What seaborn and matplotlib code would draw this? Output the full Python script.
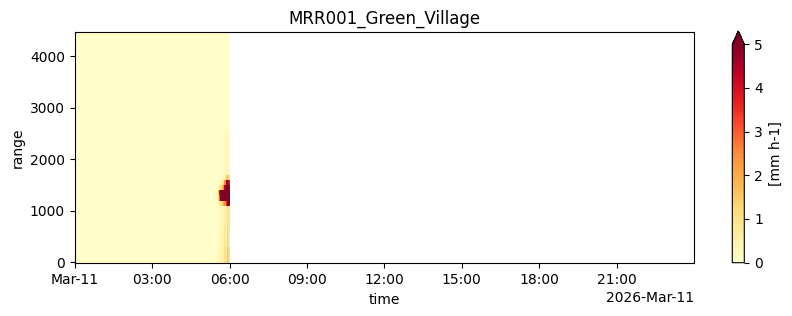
import numpy as np
import pandas as pd
import matplotlib
matplotlib.use("Agg")
import matplotlib.pyplot as plt
import matplotlib.dates as mdates
import seaborn as sns

# ---- data -----------------------------------------------------------------
day = "2026-03-11"
# time bin edges, minutes after midnight
time_edges_min = [0, 327, 330, 333, 336, 339, 342, 345, 348, 351, 354, 357, 360]
# range bin edges in metres
range_edges = [-17.5, 300, 700, 1100, 1200, 1300, 1400, 1500, 1600, 1700, 2500, 4462.5]
# rain rate [mm h-1], rows = range bins (bottom->top), cols = time bins
rain_rate = [
    [0.0, 0.10, 0.20, 0.30, 0.40, 0.30, 0.70, 0.40, 1.00, 0.60, 1.80, 1.00],
    [0.0, 0.05, 0.10, 0.20, 0.30, 0.20, 0.50, 0.30, 0.80, 0.40, 1.40, 0.70],
    [0.0, 0.05, 0.10, 0.10, 0.20, 0.30, 0.30, 0.40, 0.50, 0.60, 0.90, 0.90],
    [0.0, 0.10, 0.20, 0.40, 0.60, 1.00, 1.50, 2.00, 2.50, 3.50, 6.00, 5.50],
    [0.0, 0.20, 0.50, 1.20, 3.00, 6.00, 7.00, 7.00, 6.00, 6.00, 7.00, 6.00],
    [0.0, 0.20, 0.40, 1.50, 4.00, 6.00, 8.00, 8.00, 8.00, 8.00, 8.00, 7.00],
    [0.0, 0.05, 0.10, 0.30, 0.60, 1.20, 1.80, 2.50, 4.50, 7.00, 7.00, 6.00],
    [0.0, 0.05, 0.05, 0.10, 0.20, 0.40, 0.60, 1.00, 2.50, 6.00, 6.00, 4.00],
    [0.0, 0.00, 0.05, 0.05, 0.10, 0.10, 0.20, 0.30, 0.50, 1.50, 1.80, 1.00],
    [0.0, 0.00, 0.00, 0.05, 0.05, 0.05, 0.10, 0.10, 0.20, 0.30, 0.30, 0.20],
    [0.0, 0.00, 0.00, 0.00, 0.00, 0.05, 0.05, 0.05, 0.10, 0.10, 0.10, 0.05],
]
title = "MRR001_Green_Village"
cbar_label = "[mm h-1]"
vmin, vmax = 0, 5

# ---- figure ---------------------------------------------------------------
t0 = pd.Timestamp(day)
t_edges = [t0 + pd.Timedelta(minutes=m) for m in time_edges_min]
x_edges = mdates.date2num([t.to_pydatetime() for t in t_edges])
Z = np.array(rain_rate)

cmap = sns.color_palette("YlOrRd", as_cmap=True)

fig = plt.figure(figsize=(7.92, 3.16), dpi=100)
ax = fig.add_axes([74.7 / 792, 1 - 263.3 / 316, (694 - 74.7) / 792, (263.3 - 32.3) / 316])
mesh = ax.pcolormesh(x_edges, range_edges, Z, cmap=cmap, vmin=vmin, vmax=vmax,
                     shading="flat")

ax.set_xlim(mdates.date2num(t0.to_pydatetime()),
            mdates.date2num((t0 + pd.Timedelta(hours=24)).to_pydatetime()))
ax.set_ylim(range_edges[0], range_edges[-1])
ax.set_yticks([0, 1000, 2000, 3000, 4000])

locator = mdates.HourLocator(byhour=range(0, 24, 3))
ax.xaxis.set_major_locator(locator)
ax.xaxis.set_major_formatter(mdates.ConciseDateFormatter(locator))
ax.set_xticks(mdates.date2num([(t0 + pd.Timedelta(hours=h)).to_pydatetime() for h in range(0, 24, 3)]))

ax.set_xlabel("time")
ax.set_ylabel("range")
ax.set_title(title)

cax = fig.add_axes([732.3 / 792, 1 - 262.7 / 316, 12 / 792, (262.7 - 31) / 316])
cb = fig.colorbar(mesh, cax=cax, extend="max", extendfrac=0.06)
cb.set_label(cbar_label)
cb.set_ticks([0, 1, 2, 3, 4, 5])

fig.savefig("out.png", dpi=100)
